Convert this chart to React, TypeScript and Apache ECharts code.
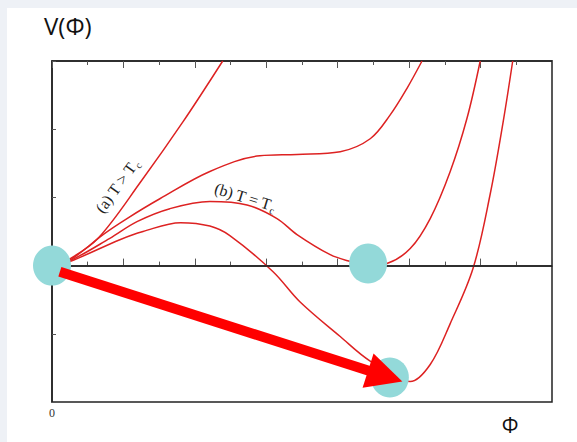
import React, { useEffect, useRef } from "react";
import * as echarts from "echarts";

// Axis extents (tick units) and tick labels
const xRange = [0, 14];
const yRange = [-2, 3];
const xTickLabels: Record<number, string> = { 0: "0" };

// (a) T > Tc
const curveAX = [0, 0.5, 1.29, 2.5, 3.67, 4.78];
const curveAY = [0, 0.1, 0.4, 1.24, 2.11, 3.0];

// intermediate temperature (inflection plateau)
const curveBX = [0, 0.5, 1.43, 2.1, 3.02, 4.42, 5.82, 6.86, 8.07, 8.91, 9.47, 9.94, 10.36];
const curveBY = [0, 0.08, 0.455, 0.69, 0.98, 1.38, 1.61, 1.63, 1.67, 1.86, 2.21, 2.6, 3.0];

// (b) T = Tc
const curveCX = [0, 0.5, 1.62, 2.38, 3.3, 4.42, 5.46, 6.3, 6.86, 7.79, 8.35, 8.85, 9.38, 10.03, 10.59, 11.15, 11.62, 11.99];
const curveCY = [0, 0.07, 0.4, 0.645, 0.835, 0.94, 0.89, 0.69, 0.455, 0.16, 0.06, 0.0, 0.03, 0.25, 0.69, 1.38, 2.16, 3.0];

// T < Tc
const curveDX = [0, 0.5, 1.9, 2.55, 3.6, 4.42, 4.98, 6.19, 6.94, 8.07, 8.91, 10.03, 10.59, 11.15, 11.79, 12.27, 12.63, 12.9];
const curveDY = [0, 0.06, 0.38, 0.5, 0.63, 0.58, 0.44, -0.09, -0.53, -1.04, -1.4, -1.7, -1.45, -0.85, -0.04, 1.05, 2.1, 3.0];

// vacuum states (circles)
const vacuaX = [0, 8.85, 9.46];
const vacuaY = [0, 0.03, -1.64];

// tunnelling arrow (start, end of shaft/head centre)
const arrowX = [0.22, 9.33];
const arrowY = [-0.09, -1.62];

const zip = (xs: number[], ys: number[]) => xs.map((x, i) => [x, ys[i]]);

const RED = "#dd2222";
const CYAN = "#93d9d9";

export default function App() {
  const ref = useRef<HTMLDivElement>(null);
  useEffect(() => {
    if (!ref.current) return;
    const chart = echarts.init(ref.current, undefined, { renderer: "svg" });
    const curveSeries = [
      zip(curveAX, curveAY),
      zip(curveBX, curveBY),
      zip(curveCX, curveCY),
      zip(curveDX, curveDY),
    ].map((data, i) => ({
      type: "line",
      name: "c" + i,
      data,
      showSymbol: false,
      smooth: 0.35,
      lineStyle: { color: RED, width: 1.5 },
      z: 3,
      silent: true,
      ...(i === 0
        ? {
            markLine: {
              silent: true,
              symbol: ["none", "none"],
              label: { show: false },
              lineStyle: { color: "#222", width: 1.5, type: "solid" },
              data: [{ yAxis: 0 }],
            },
          }
        : {}),
    }));
    const rich = {
      m: { fontFamily: "Liberation Serif", fontSize: 16, lineHeight: 20, fill: "#222", verticalAlign: "middle" },
      s: { fontFamily: "Liberation Serif", fontSize: 10, fill: "#222", verticalAlign: "bottom" },
    };
    chart.setOption({
      animation: false,
      backgroundColor: "#ffffff",
      grid: {
        left: 52,
        top: 61,
        right: 25,
        bottom: 40,
        show: true,
        borderColor: "#222",
        borderWidth: 1.5,
      },
      xAxis: [
        {
          type: "value",
          min: xRange[0],
          max: xRange[1],
          interval: 2,
          position: "bottom",
          axisLine: { show: true, lineStyle: { color: "#222", width: 1.5 } },
          axisTick: { inside: true, length: 7, lineStyle: { color: "#555" } },
          minorTick: { show: true, splitNumber: 2, length: 4, lineStyle: { color: "#555" } },
          splitLine: { show: false },
          axisLabel: {
            formatter: (v: number) => xTickLabels[v] ?? "",
            fontFamily: "Liberation Serif",
            fontSize: 12,
            color: "#333",
            margin: 5,
          },
        },
        {
          type: "value",
          min: xRange[0],
          max: xRange[1],
          interval: 2,
          position: "top",
          axisLine: { show: true, lineStyle: { color: "#222", width: 1.5 } },
          axisTick: { inside: true, length: 7, lineStyle: { color: "#555" } },
          minorTick: { show: true, splitNumber: 2, length: 4, lineStyle: { color: "#555" } },
          splitLine: { show: false },
          axisLabel: { show: false },
        },
      ],
      yAxis: {
        type: "value",
        min: yRange[0],
        max: yRange[1],
        interval: 1,
        axisLine: { show: true, lineStyle: { color: "#222", width: 1.5 } },
        axisTick: { inside: true, length: 4, lineStyle: { color: "#555" } },
        splitLine: { show: false },
        axisLabel: { show: false },
      },
      series: [
        ...curveSeries,
        {
          type: "scatter",
          data: zip(vacuaX, vacuaY),
          symbol: "circle",
          symbolSize: [38, 40],
          itemStyle: { color: CYAN, opacity: 1 },
          z: 5,
          silent: true,
        },
        {
          type: "lines",
          coordinateSystem: "cartesian2d",
          data: [{ coords: zip(arrowX, arrowY) }],
          symbol: ["none", "triangle"],
          symbolSize: [35, 36],
          lineStyle: { color: "#ff0000", width: 10, opacity: 1, curveness: 0 },
          itemStyle: { color: "#ff0000" },
          z: 10,
          silent: true,
        },
      ],
      graphic: [
        { type: "rect", shape: { x: 0, y: 0, width: 577, height: 8 }, style: { fill: "#eef1f6" }, z: -1 },
        { type: "rect", shape: { x: 0, y: 0, width: 7, height: 442 }, style: { fill: "#eef1f6" }, z: -1 },
        {
          type: "text",
          x: 44,
          y: 13,
          style: { text: "V(Φ)", font: "24px 'Open Sans'", fill: "#111" },
        },
        {
          type: "text",
          x: 510,
          y: 425,
          style: {
            text: "Φ",
            font: "21px 'Open Sans'",
            fill: "#111",
            align: "center",
            verticalAlign: "middle",
          },
        },
        {
          type: "text",
          x: 117,
          y: 186,
          rotation: (54 * Math.PI) / 180,
          style: {
            text: "{m|(a) T > T}{s|c}",
            align: "center",
            verticalAlign: "middle",
            rich,
          },
        },
        {
          type: "text",
          x: 245,
          y: 197,
          rotation: (-17 * Math.PI) / 180,
          style: {
            text: "{m|(b) T = T}{s|c}",
            align: "center",
            verticalAlign: "middle",
            rich,
          },
        },
      ],
    });
    return () => chart.dispose();
  }, []);
  return (
    <div
      ref={ref}
      style={{ position: "fixed", left: 0, top: 0, width: 577, height: 442, background: "#fff" }}
    />
  );
}
